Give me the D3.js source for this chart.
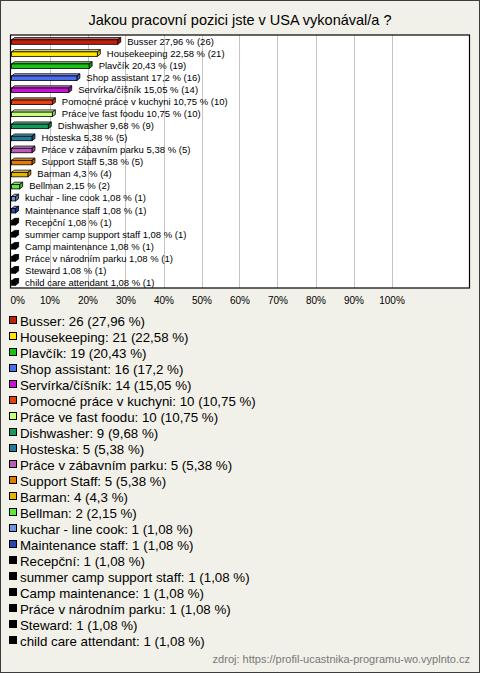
<!DOCTYPE html>
<html><head><meta charset="utf-8">
<script src="https://cdn.jsdelivr.net/npm/d3@7"></script>
<style>
html,body{margin:0;padding:0;background:#f2f1e9;}
svg{display:block;font-family:"Liberation Sans",Arial,sans-serif;}
</style></head>
<body>
<script>
const title = "Jakou pracovní pozici jste v USA vykonával/a ?";
const categories = ["Busser","Housekeeping","Plavčík","Shop assistant","Servírka/číšník","Pomocné práce v kuchyni","Práce ve fast foodu","Dishwasher","Hosteska","Práce v zábavním parku","Support Staff","Barman","Bellman","kuchar - line cook","Maintenance staff","Recepční","summer camp support staff","Camp maintenance","Práce v národním parku","Steward","child care attendant"];
const counts = [26,21,19,16,14,10,10,9,5,5,5,4,2,1,1,1,1,1,1,1,1];
const percents = [27.96,22.58,20.43,17.2,15.05,10.75,10.75,9.68,5.38,5.38,5.38,4.3,2.15,1.08,1.08,1.08,1.08,1.08,1.08,1.08,1.08];
const colors = ["#c41e0c","#ffe600","#16c416","#4a6ef0","#c814d2","#e6400c","#c8ff78","#149a5a","#1e7c96","#be5abe","#e67a00","#e6b400","#5aeb3c","#6e96dc","#2846b4","#000","#000","#000","#000","#000","#000"];
const ticks = [0,10,20,30,40,50,60,70,80,90,100];
const source = "zdroj: https://profil-ucastnika-programu-wo.vyplnto.cz";

const W = 480, H = 673;
const svg = d3.select("body").append("svg").attr("width", W).attr("height", H);
svg.append("rect").attr("x",0.5).attr("y",0.5).attr("width",W-1).attr("height",H-1)
  .attr("fill","#f2f1e9").attr("stroke","#3c3c3c");

svg.append("text").attr("x",240).attr("y",25).attr("text-anchor","middle")
  .attr("font-size","14.5px").attr("fill","#000").text(title);

const plot = {l:10.5, t:35, r:469.5, b:288};
const x = d3.scaleLinear().domain([0,100]).range([11.5,391.5]);
const y = d3.scaleBand().domain(categories).range([plot.t, plot.b]);
const fmt = v => String(v).replace(".", ",");

svg.append("rect").attr("x",plot.l).attr("y",plot.t).attr("width",plot.r-plot.l).attr("height",plot.b-plot.t)
  .attr("fill","#fff");
svg.append("g").selectAll("line").data(ticks.slice(1)).join("line")
  .attr("x1",d=>Math.round(x(d))+0.5).attr("x2",d=>Math.round(x(d))+0.5)
  .attr("y1",plot.t).attr("y2",plot.b).attr("stroke","#c4c4c4");

const dx = 3, dy = 2.2, bh = 4.5;
const g = svg.append("g");
categories.forEach((c,i)=>{
  const cy = y(c) + y.bandwidth()/2;
  const x0 = x(0), x1 = x(percents[i]);
  const yt = cy - 1.2, yb = yt + bh;
  const col = d3.color(colors[i]);
  const top = d3.interpolateRgb(colors[i], "#fff")(colors[i]==="#000"?0:0.35);
  const side = col.darker(0.7).toString();
  g.append("path").attr("d",`M${x0},${yt}L${x0+dx},${yt-dy}L${x1+dx},${yt-dy}L${x1},${yt}Z`)
    .attr("fill",top).attr("stroke","#000").attr("stroke-width",0.8).attr("stroke-linejoin","round");
  g.append("path").attr("d",`M${x1},${yt}L${x1+dx},${yt-dy}L${x1+dx},${yb-dy}L${x1},${yb}Z`)
    .attr("fill",side).attr("stroke","#000").attr("stroke-width",0.8).attr("stroke-linejoin","round");
  g.append("rect").attr("x",x0).attr("y",yt).attr("width",x1-x0).attr("height",bh)
    .attr("fill",colors[i]).attr("stroke","#000").attr("stroke-width",0.8);
  g.append("text").attr("x",x1+9.5).attr("y",cy+0.5).attr("dy","0.35em")
    .attr("font-size","9.5px").attr("fill","#000")
    .text(`${c} ${fmt(percents[i])} % (${counts[i]})`);
});

svg.append("rect").attr("x",plot.l).attr("y",plot.t).attr("width",plot.r-plot.l).attr("height",plot.b-plot.t)
  .attr("fill","none").attr("stroke","#000").attr("stroke-width",1.2);

const axis = d3.axisBottom(x).tickValues(ticks).tickSize(0).tickPadding(9).tickFormat(d=>d+"%");
const ax = svg.append("g").attr("transform",`translate(0,${plot.b})`).call(axis);
ax.select(".domain").remove();
ax.selectAll("text").attr("font-size","10px").attr("fill","#000").attr("font-family","Liberation Sans, Arial, sans-serif");
ax.selectAll(".tick").filter(d=>d===0).select("text").attr("text-anchor","start").attr("x",-1.5);

const lg = svg.append("g");
categories.forEach((c,i)=>{
  const cy = 321 + i*16;
  lg.append("rect").attr("x",9.5).attr("y",cy-4.5).attr("width",7).attr("height",7)
    .attr("fill",colors[i]).attr("stroke","#000").attr("stroke-width",1);
  lg.append("text").attr("x",20).attr("y",cy).attr("dy","0.35em")
    .attr("font-size","13.3px").attr("fill","#000")
    .text(`${c}: ${counts[i]} (${fmt(percents[i])} %)`);
});

svg.append("text").attr("x",470).attr("y",663).attr("text-anchor","end")
  .attr("font-size","11px").attr("fill","#777").text(source);
</script>
</body></html>
